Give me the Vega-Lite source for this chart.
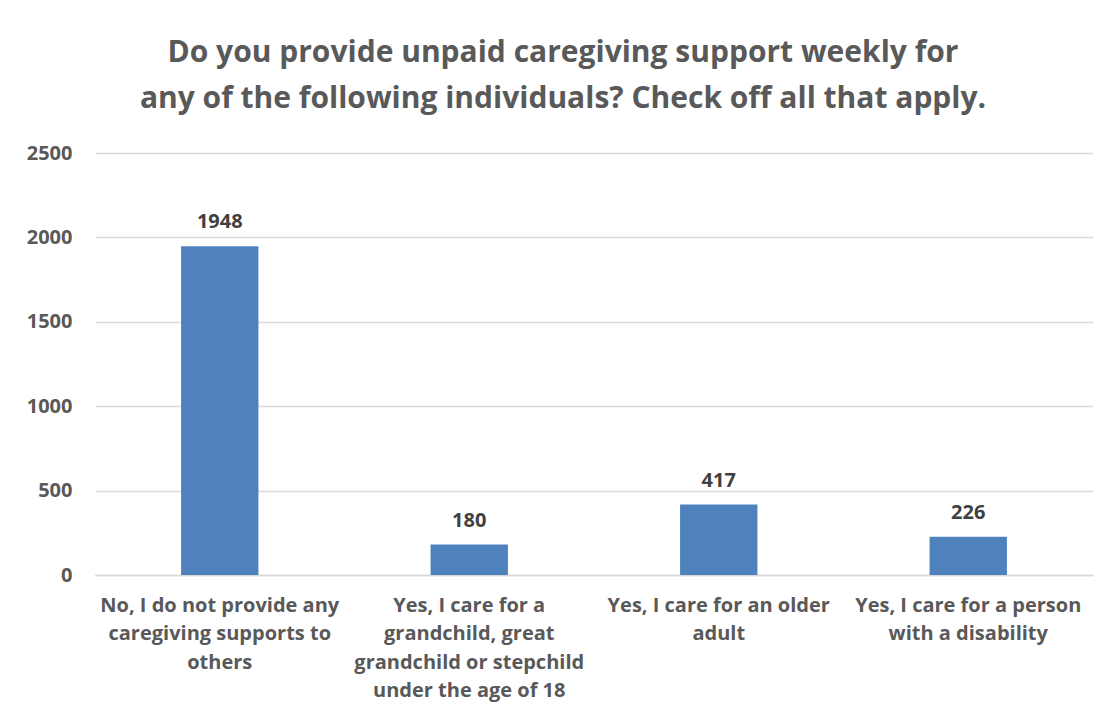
{
  "$schema": "https://vega.github.io/schema/vega-lite/v6.json",
  "width": 998,
  "height": 422,
  "autosize": "none",
  "padding": {"left": 95, "top": 153, "right": 18, "bottom": 147},
  "background": "white",
  "title": {
    "text": ["Do you provide unpaid caregiving support weekly for", "any of the following individuals? Check off all that apply."],
    "fontSize": 30,
    "fontWeight": "bold",
    "font": "Open Sans",
    "color": "#595959",
    "lineHeight": 46,
    "anchor": "middle",
    "dx": -31,
    "offset": 29
  },
  "data": {
    "values": [
      {"answer": "No, I do not provide any caregiving supports to others", "count": 1948},
      {"answer": "Yes, I care for a grandchild, great grandchild or stepchild under the age of 18", "count": 180},
      {"answer": "Yes, I care for an older adult", "count": 417},
      {"answer": "Yes, I care for a person with a disability", "count": 226}
    ]
  },
  "encoding": {
    "x": {
      "field": "answer",
      "type": "nominal",
      "sort": null,
      "title": null,
      "scale": {"paddingInner": 0.69, "paddingOuter": 0.345},
      "axis": {
        "labelAngle": 0,
        "labelFont": "Open Sans",
        "labelFontSize": 20,
        "labelFontWeight": "bold",
        "labelColor": "#595959",
        "labelLineHeight": 28.5,
        "labelPadding": 20,
        "labelLimit": 0,
        "ticks": false,
        "domainColor": "#D9D9D9",
        "domainWidth": 1.5,
        "labelExpr": "datum.value == 'No, I do not provide any caregiving supports to others' ? ['No, I do not provide any', 'caregiving supports to', 'others'] : datum.value == 'Yes, I care for a grandchild, great grandchild or stepchild under the age of 18' ? ['Yes, I care for a', 'grandchild, great', 'grandchild or stepchild', 'under the age of 18'] : datum.value == 'Yes, I care for an older adult' ? ['Yes, I care for an older', 'adult'] : ['Yes, I care for a person', 'with a disability']"
      }
    },
    "y": {
      "field": "count",
      "type": "quantitative",
      "title": null,
      "scale": {"domain": [0, 2500]},
      "axis": {
        "values": [0, 500, 1000, 1500, 2000, 2500],
        "format": "d",
        "labelFont": "Open Sans",
        "labelFontSize": 20,
        "labelFontWeight": "bold",
        "labelColor": "#595959",
        "labelPadding": 23,
        "ticks": false,
        "domain": false,
        "gridColor": "#D9D9D9",
        "gridWidth": 1.5
      }
    }
  },
  "layer": [
    {"mark": {"type": "bar", "color": "#4F81BD"}},
    {
      "mark": {"type": "text", "baseline": "alphabetic", "dy": -18, "font": "Open Sans", "fontSize": 20, "fontWeight": "bold", "color": "#404040"},
      "encoding": {"text": {"field": "count", "type": "quantitative", "format": "d"}}
    }
  ],
  "config": {"view": {"stroke": null}}
}
